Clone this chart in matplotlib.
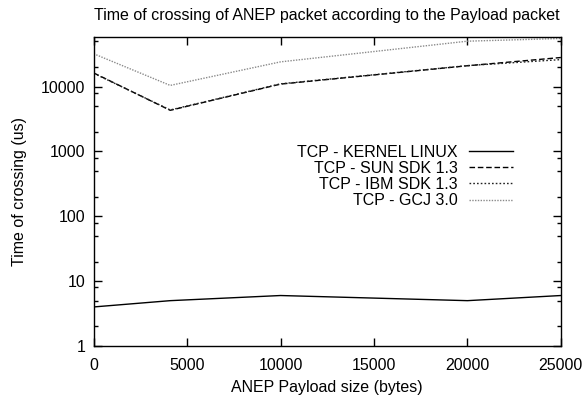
import matplotlib
matplotlib.use("Agg")
import matplotlib.pyplot as plt
from matplotlib.ticker import LogLocator, NullFormatter, FixedLocator

plt.rcParams['font.family'] = ['Liberation Sans', 'DejaVu Sans']

# payload size (bytes)
payload = [0, 4096, 10000, 20000, 25000]

# crossing time (us)
kernel_linux = [4.0, 5.0, 6.0, 5.0, 6.0]
sun_sdk = [16200, 4300, 10900, 20900, 28000]
ibm_sdk = [16000, 4350, 11000, 21000, 26000]
gcj = [32000, 10400, 24000, 50000, 55000]

labels = ["TCP - KERNEL LINUX", "TCP - SUN SDK 1.3",
          "TCP - IBM SDK 1.3", "TCP - GCJ 3.0"]

FS = 11.5

fig = plt.figure(figsize=(5.84, 4.0), dpi=100)
ax = fig.add_axes([0.1604, 0.135, 0.80, 0.7725])

ax.plot(payload, kernel_linux, color='black', lw=1.0, ls='-', label=labels[0])
ax.plot(payload, sun_sdk, color='black', lw=1.0, ls=(0, (4, 2)), label=labels[1])
ax.plot(payload, ibm_sdk, color='#222222', lw=1.0, ls=(0, (1.2, 1.5)), label=labels[2])
ax.plot(payload, gcj, color='#8a8a8a', lw=1.0, ls=(0, (1, 1)), label=labels[3])

ax.set_yscale('log')
ax.set_xlim(0, 25000)
ax.set_ylim(1, 58000)
ax.set_xticks([0, 5000, 10000, 15000, 20000, 25000])
ax.yaxis.set_major_locator(FixedLocator([1, 10, 100, 1000, 10000]))
ax.set_yticklabels(['1', '10', '100', '1000', '10000'])
ax.yaxis.set_minor_locator(LogLocator(base=10, subs=(2, 5, 8)))
ax.yaxis.set_minor_formatter(NullFormatter())

ax.tick_params(which='both', direction='in', top=True, right=True,
               labelsize=FS, width=1.0)
ax.tick_params(axis='x', pad=8.5)
ax.tick_params(axis='y', pad=6)
ax.tick_params(which='major', length=6)
ax.tick_params(which='minor', length=3)
ax.tick_params(axis='x', which='minor', bottom=False, top=False)
for s in ax.spines.values():
    s.set_linewidth(1.0)

ax.set_xlabel("ANEP Payload size (bytes)", fontsize=FS, labelpad=5)
ax.set_ylabel("Time of crossing (us)", fontsize=FS, labelpad=10)
ax.set_title("Time of crossing of ANEP packet according to the Payload packet",
             fontsize=FS, pad=12)

ax.legend(loc='upper right', bbox_to_anchor=(0.897, 0.651), frameon=False,
          markerfirst=False, fontsize=FS, handlelength=2.75, handletextpad=0.7,
          labelspacing=0.07, borderpad=0, borderaxespad=0)

fig.savefig("out.png", dpi=100)
